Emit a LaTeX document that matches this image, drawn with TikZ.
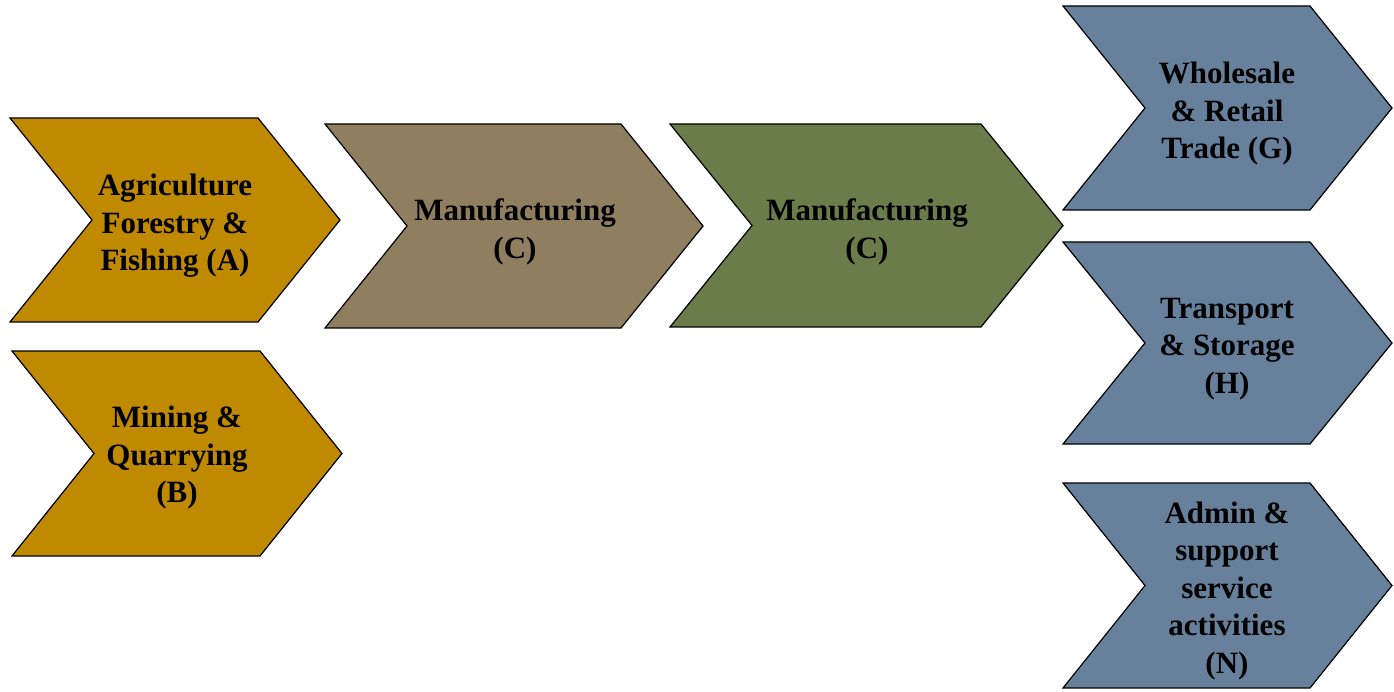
\documentclass[tikz,border=0pt]{standalone}
\usepackage{fontspec}
\setmainfont{Liberation Serif}
\definecolor{cgold}{RGB}{192,138,0}
\definecolor{ctan}{RGB}{143,127,96}
\definecolor{cgreen}{RGB}{106,124,74}
\definecolor{cblue}{RGB}{103,129,156}
\tikzset{
  chevshape/.style={draw=black, line width=1.2pt, line join=miter},
  chevtext/.style={align=center, font=\fontsize{31}{37.5}\selectfont\bfseries, inner sep=0pt}
}
% #1 left x, #2 top y, #3 right tip x, #4 bottom y, #5 depth, #6 colour
\newcommand\mychev[6]{%
  \path[chevshape, fill=#6] (#1,-#2) -- ({#3-#5},-#2) -- (#3,{-(#2+#4)/2}) -- ({#3-#5},-#4) -- (#1,-#4) -- ({#1+#5},{-(#2+#4)/2}) -- cycle;
}
\begin{document}
\begin{tikzpicture}[x=1pt,y=1pt]
\useasboundingbox (0,0) rectangle (1394,-692);
\mychev{10}{118}{340}{322}{82}{cgold}
\mychev{12}{351}{342}{556}{82}{cgold}
\mychev{325}{124}{703}{328}{82}{ctan}
\mychev{670}{124}{1063}{327}{82}{cgreen}
\mychev{1063}{6}{1392}{210}{82}{cblue}
\mychev{1063}{242}{1392}{444}{82}{cblue}
\mychev{1063}{483}{1392}{688}{82}{cblue}
\node[chevtext] (agri) at (175,-226) {Agriculture\\Forestry \&\\Fishing (A)};
\node[chevtext] (mine) at (177,-458) {Mining \&\\Quarrying\\(B)};
\node[chevtext] (manu1) at (515,-232) {Manufacturing\\(C)};
\node[chevtext] (manu2) at (867,-232) {Manufacturing\\(C)};
\node[chevtext] (trade) at (1227,-114) {Wholesale\\\& Retail\\Trade (G)};
\node[chevtext] (trans) at (1227,-349) {Transport\\\& Storage\\(H)};
\node[chevtext] (admin) at (1227,-591) {Admin \&\\support\\service\\activities\\(N)};
\end{tikzpicture}
\end{document}
